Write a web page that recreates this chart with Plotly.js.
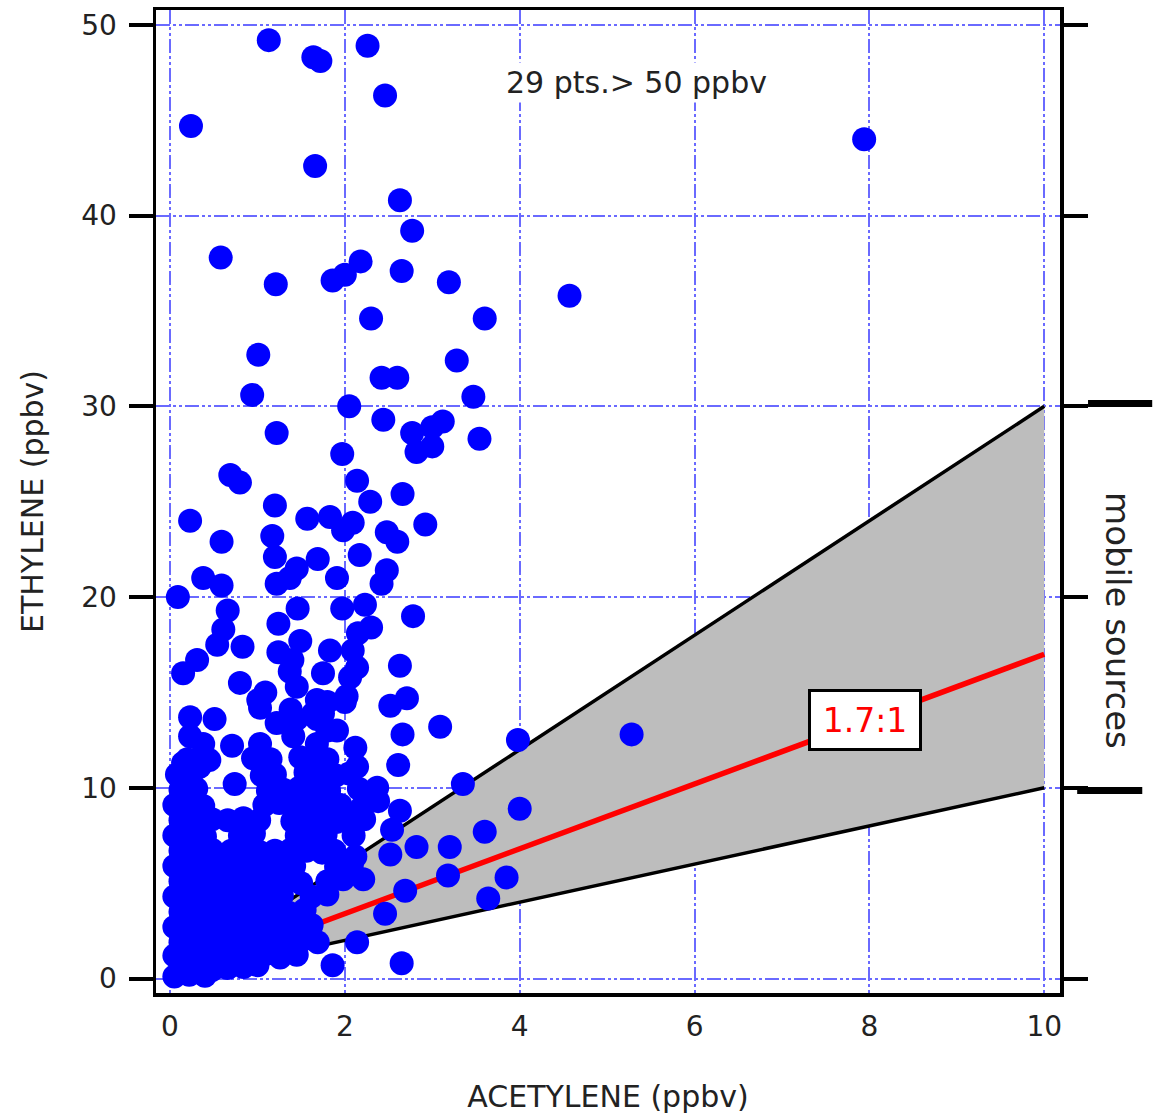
<!DOCTYPE html>
<html><head><meta charset="utf-8">
<script src="https://cdn.plot.ly/plotly-3.0.1.min.js"></script>
<style>html,body{margin:0;padding:0;background:#fff}#chart{width:1156px;height:1115px}</style>
</head><body><div id="chart"></div><script>
// ---- data (ppbv) ----
var highAcetylene = [1.13,2.26,1.64,1.72,2.46,0.24,1.66,7.94,2.63,2.77,
  0.58,2.18,1.86,2.0,1.21,2.65,3.19,4.57,2.30,3.60,
  1.01,3.28,2.42,2.60,0.94,3.47,2.05,2.44,1.22,2.77,
  3.0,3.12,2.82,3.0,3.54,1.97,0.69,0.80,2.14,1.2,
  2.66,2.29];
var highEthylene = [49.2,48.9,48.3,48.1,46.3,44.7,42.6,44.0,40.8,39.2,
  37.8,37.6,36.6,36.9,36.4,37.1,36.5,35.8,34.6,34.6,
  32.7,32.4,31.5,31.5,30.6,30.5,30.0,29.3,28.6,28.6,
  28.9,29.2,27.6,27.9,28.3,27.5,26.4,26.0,26.1,24.8,
  25.4,25.0];
var midAcetylene = [0.23,0.59,1.57,1.83,1.98,2.09,2.92,1.17,1.2,1.69,
  1.45,1.37,1.22,1.91,2.17,2.48,2.6,2.48,2.42,0.38,
  0.59,0.09,0.66,1.46,1.97,2.23,2.78,1.24,0.61,2.15,
  2.3,0.54,0.83,1.49,1.24,1.83,2.09,0.31,0.15,1.37,
  1.4,1.75,2.06,2.14,2.63,0.80,1.09,1.01,1.45,1.68,
  2.02,2.52,2.71,0.23,0.51,3.09,1.45,1.22,1.38,1.68,
  1.75,1.80,2.66,1.03,0.23,0.38,0.71,1.03,1.41,1.68,
  1.91,2.12,1.64,1.80,2.0,0.15,0.34,0.74,1.11,1.49,
  2.14,2.37,2.61,2.38];
var midEthylene = [24.0,22.9,24.1,24.2,23.5,23.9,23.8,23.2,22.1,22.0,
  21.5,21.0,20.7,21.0,22.2,23.4,22.9,21.4,20.7,21.0,
  20.6,20.0,19.3,19.4,19.4,19.6,19.0,18.6,18.3,18.1,
  18.4,17.5,17.4,17.7,17.1,17.2,17.2,16.7,16.0,16.1,
  16.7,16.0,15.8,16.3,16.4,15.5,15.0,14.6,15.3,14.6,
  14.8,14.3,14.7,13.7,13.6,13.2,13.6,13.4,14.1,13.6,
  13.9,13.0,12.8,14.2,12.7,12.3,12.2,12.3,12.7,12.3,
  13.0,12.1,13.9,14.5,14.5,11.3,11.1,10.2,11.1,11.6,
  11.1,10.0,11.2,9.3];
var bandAcetylene = [3.98,5.28,3.35,4.0,2.63,2.54,3.6,2.82,3.2,2.52,
  3.18,3.85,2.69,3.64,2.46,2.65,1.86,2.21,2.14,1.69,
  1.26,2.12];
var bandEthylene = [12.5,12.8,10.2,8.9,8.8,7.8,7.7,6.9,6.9,6.5,
  5.4,5.3,4.6,4.2,3.4,0.8,0.7,5.2,1.9,1.9,
  1.1,6.4];
var lowAcetylene = [
  0.05,0.22,0.4,
  0.12,0.3,0.48,0.66,0.84,1.0,
  0.05,0.22,0.4,0.58,0.76,0.93,1.1,1.45,
  0.12,0.3,0.48,0.66,0.84,1.0,1.18,1.36,1.55,
  0.05,0.22,0.4,0.58,0.76,0.93,1.1,1.28,1.45,1.62,
  0.12,0.3,0.48,0.66,0.84,1.0,1.18,1.36,1.54,
  0.05,0.22,0.4,0.58,0.76,0.93,1.1,1.28,1.62,1.8,
  0.12,0.3,0.48,0.66,0.84,1.0,1.18,1.36,1.5,1.8,1.98,
  0.05,0.22,0.4,0.58,0.76,0.93,1.1,1.28,1.42,1.9,2.08,
  0.12,0.3,0.48,0.7,0.86,1.02,1.2,1.38,1.56,1.74,1.88,
  0.05,0.22,0.4,0.8,0.96,1.45,1.62,1.78,2.1,
  0.12,0.3,0.48,0.66,0.84,1.02,1.4,1.56,1.72,1.9,2.06,2.22,
  0.05,0.22,0.38,1.08,1.25,1.42,1.6,1.78,1.95,2.2,
  0.12,0.3,1.12,1.3,1.48,1.65,1.82,2.16,
  0.08,0.25,1.05,1.2,1.55,1.72,1.9,2.05,
  0.2,0.45,0.95,1.15,1.62,1.8];
var lowEthylene = [
  0.1,0.2,0.15,
  0.6,0.5,0.45,0.55,0.6,0.7,
  1.2,1.1,1.3,1.15,1.25,1.2,1.3,1.25,
  1.9,2.0,1.85,1.95,2.0,1.9,2.05,1.9,2.1,
  2.7,2.6,2.75,2.7,2.65,2.8,2.7,2.6,2.75,2.8,
  3.5,3.45,3.6,3.5,3.4,3.55,3.5,3.45,3.6,
  4.3,4.35,4.25,4.3,4.4,4.3,4.25,4.35,4.3,4.4,
  5.1,5.05,5.15,5.1,5.2,5.05,5.1,5.15,5.0,5.1,5.2,
  5.9,5.95,5.85,5.9,6.0,5.9,5.85,5.95,5.9,5.85,5.95,
  6.7,6.65,6.75,6.7,6.8,6.65,6.7,6.75,6.7,6.6,6.7,
  7.5,7.55,7.45,7.5,7.6,7.5,7.45,7.55,7.5,
  8.3,8.25,8.35,8.3,8.4,8.3,8.25,8.35,8.3,8.2,8.3,8.35,
  9.1,9.15,9.05,9.1,9.2,9.1,9.05,9.15,9.1,9.0,
  9.9,9.95,9.85,9.9,10.0,9.9,9.85,9.95,
  10.7,10.75,10.65,10.7,10.8,10.7,10.65,10.75,
  11.5,11.45,11.55,11.5,11.6,11.5];
// mobile-source ratio lines (ethylene : acetylene)
var lineAcetylene = [0, 10];
var upperEthylene = [0, 30];   // 3:1
var ratioEthylene = [0, 17];   // 1.7:1
var lowerEthylene = [0, 10];   // 1:1
var xTicks = [0, 2, 4, 6, 8, 10];
var yTicks = [0, 10, 20, 30, 40, 50];

var allX = highAcetylene.concat(midAcetylene, bandAcetylene, lowAcetylene);
var allY = highEthylene.concat(midEthylene, bandEthylene, lowEthylene);

var FONT = 'DejaVu Sans, Verdana, sans-serif';
var traces = [
  {x: lineAcetylene, y: lowerEthylene, mode: 'lines', line: {color: '#000', width: 3.5}, hoverinfo: 'skip', showlegend: false},
  {x: lineAcetylene, y: upperEthylene, mode: 'lines', fill: 'tonexty', fillcolor: '#bdbdbd', line: {color: '#000', width: 3.5}, hoverinfo: 'skip', showlegend: false},
  {x: lineAcetylene, y: ratioEthylene, mode: 'lines', line: {color: '#ff0000', width: 5.5}, hoverinfo: 'skip', showlegend: false},
  {x: allX, y: allY, mode: 'markers', type: 'scatter', marker: {color: '#0000ff', size: 24, line: {width: 0}}, showlegend: false}
];

var grid = {gridcolor: '#6a6aff', gridwidth: 2, griddash: '14px,3px,3px,3px,3px,3px'};
var layout = {
  width: 1156, height: 1115,
  margin: {l: 156, r: 96, t: 10, b: 122},
  paper_bgcolor: '#fff', plot_bgcolor: '#fff',
  font: {family: FONT, color: '#222'},
  showlegend: false,
  xaxis: Object.assign({
    range: [-0.16, 10.18], tickvals: xTicks, ticks: '', showline: true, linecolor: '#000', linewidth: 3.5,
    mirror: true, zeroline: false, tickfont: {size: 28, family: FONT, color: '#222'}, ticklabelstandoff: 6,
    title: {text: 'ACETYLENE (ppbv)', font: {size: 30, family: FONT, color: '#222'}, standoff: 45},
    automargin: false
  }, grid),
  yaxis: Object.assign({
    range: [-0.76, 50.78], tickvals: yTicks, ticks: 'outside', ticklen: 24, tickwidth: 4, tickcolor: '#000',
    showline: true, linecolor: '#000', linewidth: 3.5, mirror: 'ticks', zeroline: false,
    tickfont: {size: 28, family: FONT, color: '#222'}, ticklabelstandoff: 6,
    title: {text: 'ETHYLENE (ppbv)', font: {size: 30, family: FONT, color: '#222'}, standoff: 30},
    automargin: false
  }, grid),
  annotations: [
    {x: 5.34, y: 46.96, xref: 'x', yref: 'y', text: '29 pts.> 50 ppbv', showarrow: false, bgcolor: '#fff',
     borderpad: 2, font: {size: 30, family: FONT, color: '#222'}},
    {x: 7.95, y: 13.56, xref: 'x', yref: 'y', text: '1.7:1', showarrow: false, bgcolor: '#fff',
     bordercolor: '#000', borderwidth: 3, borderpad: 4, width: 100, height: 48,
     font: {size: 33, family: FONT, color: '#ff0000'}},
    {x: 1.064, y: 18.75, xref: 'paper', yref: 'y', xanchor: 'center', yanchor: 'middle', text: 'mobile sources', textangle: 90, showarrow: false,
     font: {size: 34, family: FONT, color: '#222'}}
  ],
  shapes: [
    {type: 'line', xref: 'paper', yref: 'y', x0: 1.031, x1: 1.102, y0: 30.15, y1: 30.15, line: {color: '#000', width: 7}},
    {type: 'line', xref: 'paper', yref: 'y', x0: 1.019, x1: 1.091, y0: 9.86, y1: 9.86, line: {color: '#000', width: 7}}
  ]
};
Plotly.newPlot('chart', traces, layout, {displayModeBar: false, staticPlot: true});
</script></body></html>
